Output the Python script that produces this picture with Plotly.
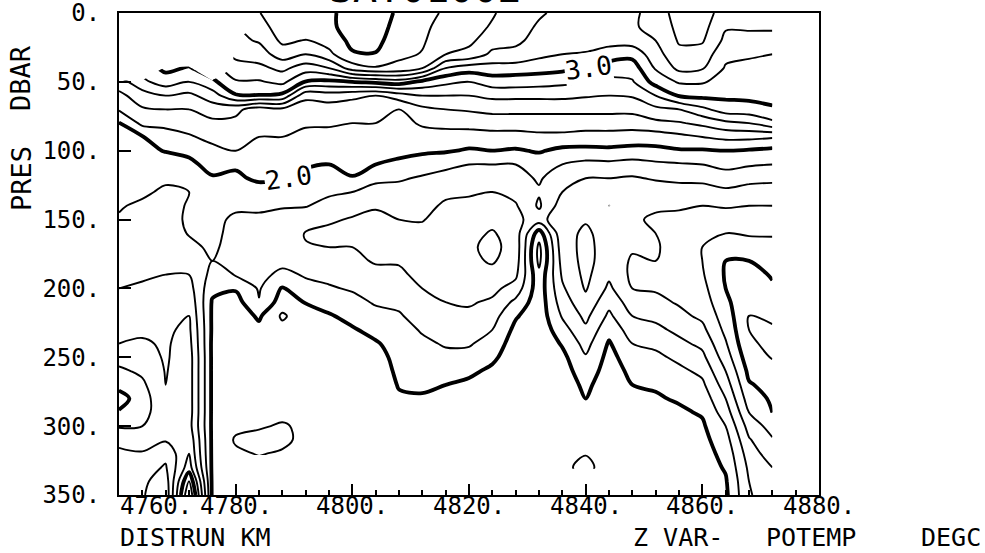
import numpy as np
import plotly.graph_objects as go

nan = float("nan")

distance_km = [4760, 4764, 4768, 4772, 4776, 4780, 4784, 4788, 4792, 4796,
               4800, 4804, 4808, 4812, 4816, 4820, 4824, 4828, 4832, 4836,
               4840, 4844, 4848, 4852, 4856, 4860, 4864, 4868, 4872]
pressure_dbar = list(range(0, 351, 10))

# potential temperature profiles (deg C), one list per station, 0..350 dbar every 10
profiles = [
 [nan,nan,nan,nan,nan, 2.5,2.35,2.22,1.99,1.96,1.93,1.9,1.88,1.85,1.81,
  1.79,1.76,1.72,1.69,1.65,1.6,1.55,1.5,1.45,1.4,1.28,1.16,1.06,0.92,1.02,1.18,1.36,1.43,1.46,1.5,1.52],
 [nan,nan,nan,nan,nan, 2.75,2.5,2.38,2.25,1.99,1.95,1.9,1.86,1.82,1.78,
  1.77,1.74,1.7,1.66,1.62,1.58,1.53,1.48,1.43,1.38,1.32,1.24,1.16,1.1,1.12,1.2,1.3,1.42,1.52,1.56,1.58],
 [nan,nan,nan,nan, 3.05, 2.9,2.6,2.4,2.25,2.12,2.01,1.9,1.82,1.78,1.76,
  1.75,1.72,1.68,1.64,1.6,1.55,1.5,1.46,1.43,1.42,1.42,1.41,1.4,1.38,1.35,1.33,1.38,1.55,1.62,1.7,1.75],
 [nan,nan,nan,nan, 2.98, 2.8,2.55,2.4,2.28,2.18,2.05,1.95,1.88,1.8,1.81,
  1.82,1.81,1.76,1.66,1.6,1.52,1.45,1.4,1.36,1.33,1.3,1.3,1.3,1.3,1.3,1.32,1.25,1.2,1.1,0.8,0.6],
 [nan,nan,nan,nan,nan, 2.95,2.7,2.5,2.35,2.25,2.15,2.07,1.98,1.85,1.82,
  1.83,1.84,1.83,1.8,1.86,1.95,2.02,2.03,2.03,2.04,2.04,2.04,2.04,2.04,2.04,2.04,2.04,2.04,2.04,2.04,2.04],
 [nan,nan, 3.55,3.45,3.32,3.18,2.98,2.45,2.35,2.28,2.2,2.03,1.96,1.9,1.82,
  1.78,1.75,1.73,1.74,1.79,1.98,2.08,2.12,2.14,2.15,2.15,2.15,2.15,2.15,2.15,2.16,2.22,2.17, nan,nan,nan],
 [3.79,3.72,3.62,3.5,3.35,3.18,2.99,2.3,2.25,2.2,2.16,2.11,2.04,1.9,1.82,
  1.78,1.74,1.72,1.72,1.74,1.78,1.81,1.97,2.05,2.1,2.12,2.14,2.15,2.15,2.15,2.18,2.26,2.21, nan,nan,nan],
 [3.95,3.9,3.84,3.7,3.45,3.25,2.95,2.35,2.25,2.2,2.14,2.08,2.01,1.86,1.81,
  1.76,1.68,1.66,1.74,1.85,2.02,2.1,2.23,2.14,2.15,2.15,2.15,2.15,2.15,2.15,2.22,2.24,2.18, nan,nan,nan],
 [3.95,3.9,3.79,3.6,3.3,2.99,2.45,2.3,2.22,2.16,2.1,2.02,1.95,1.87,1.81,
  1.7,1.59,1.61,1.7,1.78,1.86,1.99,2.08,2.12,2.14,2.15,2.15,2.15,2.15,2.15,2.16,2.15,2.14, nan,nan,nan],
 [3.93,3.95,3.88,3.75,3.4,2.95,2.5,2.3,2.22,2.15,2.08,2.0,1.92,1.83,1.74,
  1.63,1.55,1.6,1.68,1.75,1.82,1.92,2.02,2.08,2.11,2.13,2.15,2.15,2.15,2.15,2.15,2.15,2.15, nan,nan,nan],
 [4.15,4.1,4.05,3.98,3.7,3.0,2.45,2.28,2.2,2.15,2.1,2.05,1.99,1.8,1.68,
  1.58,1.52,1.6,1.65,1.72,1.78,1.86,1.94,2.02,2.06,2.1,2.12,2.14,2.14,2.14,2.14,2.14,2.14, nan,nan,nan],
 [4.15,4.1,4.06,3.99,3.78,3.05,2.4,2.28,2.2,2.12,2.06,2.0,1.85,1.72,1.62,
  1.55,1.5,1.52,1.58,1.66,1.72,1.78,1.86,1.94,2.02,2.06,2.08,2.1,2.1,2.1,2.1,2.1,2.1, nan,nan,nan],
 [3.95,3.92,3.88,3.84,3.75,3.1,2.5,2.2,2.15,2.1,2.05,1.96,1.82,1.74,1.68,
  1.6,1.52,1.52,1.58,1.64,1.7,1.76,1.82,1.88,1.92,1.95,1.97,1.99,2.02,2.06,2.08,2.1,2.1, nan,nan,nan],
 [3.85,3.83,3.82,3.79,3.6,2.95,2.6,2.35,2.22,2.14,2.04,1.88,1.78,1.72,1.66,
  1.61,1.55,1.5,1.5,1.54,1.6,1.66,1.72,1.78,1.84,1.88,1.92,1.97,2.02,2.06,2.1,2.1,2.1, nan,nan,nan],
 [3.78,3.75,3.7,3.6,3.2,2.85,2.6,2.4,2.25,2.13,2.02,1.84,1.74,1.64,1.57,
  1.53,1.5,1.48,1.48,1.5,1.55,1.6,1.66,1.72,1.78,1.85,1.92,2.0,2.05,2.08,2.1,2.1,2.1, nan,nan,nan],
 [3.7,3.68,3.64,3.55,3.1,2.8,2.6,2.42,2.28,2.1,1.98,1.8,1.7,1.62,1.56,
  1.5,1.46,1.43,1.44,1.48,1.54,1.58,1.64,1.7,1.78,1.86,1.96,2.04,2.08,2.1,2.12,2.12,2.12, nan,nan,nan],
 [3.62,3.58,3.5,3.35,3.12,2.9,2.65,2.45,2.3,2.12,2.0,1.8,1.7,1.6,1.52,
  1.46,1.38,1.35,1.38,1.46,1.55,1.63,1.72,1.8,1.88,1.96,2.04,2.1,2.12,2.14,2.15,2.15,2.15, nan,nan,nan],
 [3.5,3.47,3.43,3.36,3.1,2.9,2.65,2.45,2.3,2.12,1.98,1.8,1.74,1.66,1.58,
  1.55,1.5,1.48,1.5,1.56,1.68,1.85,1.98,2.05,2.1,2.12,2.14,2.15,2.15,2.15,2.15,2.15,2.15, nan,nan,nan],
 [3.42,3.38,3.35,3.25,3.08,2.88,2.65,2.45,2.3,2.15,2.02,1.88,1.82,1.78,1.83,
  1.7,2.1,2.25,2.25,2.15,2.12,2.12,2.12,2.14,2.15,2.15,2.15,2.15,2.16,2.18,2.18,2.18,2.18,2.18, nan,nan],
 [3.36,3.34,3.28,3.2,3.05,2.85,2.65,2.45,2.3,2.15,1.95,1.8,1.7,1.6,1.5,
  1.42,1.44,1.48,1.52,1.57,1.63,1.7,1.78,1.88,1.98,2.05,2.08,2.1,2.12,2.15,2.17,2.19,2.18,2.15, nan,nan],
 [3.34,3.36,3.3,3.18,3.0,2.8,2.62,2.45,2.3,2.12,1.95,1.74,1.6,1.5,1.44,
  1.41,1.38,1.35,1.34,1.35,1.38,1.46,1.55,1.64,1.73,1.82,1.9,1.96,2.0,2.04,2.08,2.12,2.19,2.26, nan,nan],
 [3.32,3.36,3.28,3.1,2.9,2.75,2.6,2.45,2.3,2.12,1.96,1.75,1.6,1.48,1.4,
  1.42,1.45,1.48,1.5,1.56,1.64,1.74,1.84,1.94,2.02,2.06,2.08,2.1,2.1,2.1,2.1,2.1,2.12,2.1, nan,nan],
 [3.35,3.38,3.3,3.06,2.9,2.78,2.62,2.45,2.3,2.1,1.94,1.72,1.58,1.46,1.41,
  1.42,1.44,1.42,1.38,1.36,1.4,1.5,1.6,1.7,1.8,1.9,1.96,2.0,2.04,2.06,2.08,2.1,2.1, nan,nan,nan],
 [3.5,3.45,3.4,3.32,3.22,3.08,2.8,2.55,2.35,2.1,1.95,1.76,1.62,1.5,1.42,
  1.38,1.4,1.42,1.4,1.36,1.38,1.45,1.55,1.65,1.75,1.85,1.92,1.98,2.02,2.05,2.08,2.1,2.1, nan,nan,nan],
 [3.68,3.66,3.62,3.55,3.45,3.22,3.02,2.6,2.38,2.15,1.98,1.78,1.64,1.52,1.42,
  1.36,1.34,1.32,1.3,1.3,1.32,1.38,1.45,1.55,1.65,1.75,1.85,1.92,1.98,2.03,2.06,2.08,2.1, nan,nan,nan],
 [3.7,3.67,3.62,3.52,3.42,3.22,3.05,2.75,2.45,2.2,1.98,1.8,1.66,1.5,1.4,
  1.3,1.22,1.2,1.2,1.22,1.26,1.3,1.36,1.45,1.55,1.65,1.75,1.84,1.92,1.98,2.03,2.06,2.08,2.1, nan,nan],
 [3.5,3.42,3.35,3.25,3.18,3.12,3.04,2.9,2.55,2.25,2.0,1.86,1.7,1.56,1.42,
  1.3,1.2,1.1,1.0,0.98,1.0,1.05,1.1,1.15,1.22,1.3,1.4,1.5,1.6,1.7,1.8,1.88,1.94,1.98,2.02,2.04],
 [3.55,3.43,3.33,3.22,3.16,3.1,3.05,2.92,2.6,2.25,1.98,1.82,1.66,1.52,1.4,
  1.3,1.22,1.12,1.0,0.92,0.86,0.82,0.8,0.8,0.82,0.88,0.95,1.02,1.1,1.2,1.32,1.42,1.5,1.56,1.6,1.62],
 [3.58,3.44,3.3,3.2,3.15,3.1,3.05,2.98,2.75,2.22,1.95,1.8,1.65,1.5,1.4,
  1.3,1.22,1.14,1.08,1.02,0.97,0.9,0.83,0.78,0.77,0.79,0.86,0.93,0.97,1.0,1.12,1.22,1.3,1.4,1.45,1.48],
]

x_ticks = [4760, 4780, 4800, 4820, 4840, 4860, 4880]
x_tick_text = ["4760.", "4780.", "4800.", "4820.", "4840.", "4860.", "4880."]
y_ticks = [0, 50, 100, 150, 200, 250, 300, 350]
y_tick_text = ["0.", "50.", "100.", "150.", "200.", "250.", "300.", "350."]
# (text, distance km, pressure dbar, angle)
contour_labels = [("3.0", 4840.4, 40, -8), ("2.0", 4789.0, 120, -8)]

z = np.array(profiles, dtype=float).T

FONT = "DejaVu Sans Mono"
black = [[0, "black"], [1, "black"]]

fig = go.Figure()
fig.add_trace(go.Contour(
    x=distance_km, y=pressure_dbar, z=z,
    contours=dict(start=0.2001, end=5.0, size=0.2, coloring="lines"),
    colorscale=black, showscale=False, line=dict(width=1.9),
    hoverinfo="skip"))
fig.add_trace(go.Contour(
    x=distance_km, y=pressure_dbar, z=z,
    contours=dict(start=1.0001, end=4.5, size=1.0, coloring="lines"),
    colorscale=black, showscale=False, line=dict(width=3.8),
    hoverinfo="skip"))

fig.update_xaxes(range=[4760, 4880], showline=True, linecolor="black", linewidth=2,
                 mirror=True, ticks="inside", tickvals=x_ticks, ticklen=11,
                 tickwidth=2, tickcolor="black", showticklabels=False,
                 showgrid=False, zeroline=False, automargin=False,
                 minor=dict(ticks="inside", dtick=4, tick0=4760, ticklen=5,
                            tickwidth=2, tickcolor="black", showgrid=False))
fig.update_yaxes(range=[350, 0], showline=True, linecolor="black", linewidth=2,
                 mirror=True, ticks="inside", tickvals=y_ticks, ticktext=y_tick_text,
                 ticklen=12, tickwidth=2, tickcolor="black", ticklabelstandoff=12,
                 ticklabeloverflow="allow", automargin=False,
                 tickfont=dict(family=FONT, size=24, color="black"),
                 showgrid=False, zeroline=False)

ann = []
for v, t in zip(x_ticks, x_tick_text):
    ann.append(dict(x=v, xref="x", y=-(506 - 495) / 482, yref="paper", text=t,
                    showarrow=False, xanchor="left" if v == 4760 else "center",
                    yanchor="middle", borderpad=0,
                    font=dict(family=FONT, size=24, color="black")))
ann.append(dict(x=0.0, xref="paper", y=-(537 - 495) / 482, yref="paper", text="DISTRUN KM",
                showarrow=False, xanchor="left", yanchor="middle", borderpad=0,
                font=dict(family=FONT, size=25, color="black")))
for txt, px in [("Z VAR-", 632), ("POTEMP", 765), ("DEGC", 920)]:
    ann.append(dict(x=(px - 119) / 700, xref="paper", y=-(537 - 495) / 482, yref="paper",
                    text=txt, showarrow=False, xanchor="left", yanchor="middle",
                    borderpad=0, font=dict(family=FONT, size=25, color="black")))
ann.append(dict(x=(21 - 119) / 700, xref="paper", y=(495 - 78) / 482, yref="paper",
                text="DBAR", textangle=-90, showarrow=False, xanchor="center",
                yanchor="middle", font=dict(family=FONT, size=27, color="black")))
ann.append(dict(x=(21 - 119) / 700, xref="paper", y=(495 - 178) / 482, yref="paper",
                text="PRES", textangle=-90, showarrow=False, xanchor="center",
                yanchor="middle", font=dict(family=FONT, size=27, color="black")))
for txt, xv, pv, ang in contour_labels:
    ann.append(dict(x=xv, y=pv, xref="x", yref="y", text=txt, showarrow=False,
                    textangle=ang, bgcolor="white", borderpad=0,
                    font=dict(family=FONT, size=26, color="black")))
# title, mostly above the top edge of the page as in the original
ann.append(dict(x=(425 - 119) / 700, xref="paper", y=(495 - 12) / 482, yref="paper",
                text="SAT01002", showarrow=False, xanchor="center", yanchor="bottom",
                borderpad=0, font=dict(family=FONT, size=40, color="black")))

fig.update_layout(width=985, height=553, margin=dict(l=119, r=166, t=13, b=58),
                  paper_bgcolor="white", plot_bgcolor="white", showlegend=False,
                  annotations=ann)
fig.write_html("out.html")
